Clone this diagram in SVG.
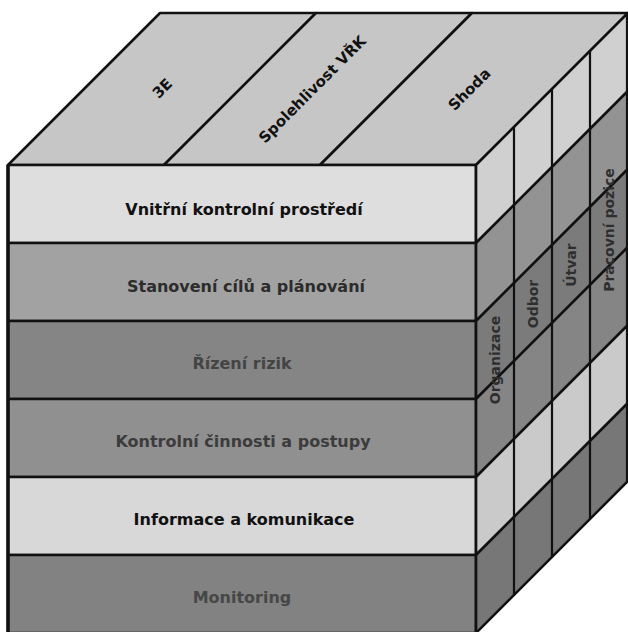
<svg xmlns="http://www.w3.org/2000/svg" width="628" height="632" viewBox="0 0 628 632">
<style>
.e{stroke:#111;stroke-width:2.5;stroke-linejoin:round}
.ln{stroke:#111;stroke-width:2.2;fill:none}
.lb{font-family:"DejaVu Sans","Liberation Sans",sans-serif;font-weight:bold;font-size:16px;text-anchor:middle}
.tp{font-family:"DejaVu Sans","Liberation Sans",sans-serif;font-weight:bold;font-size:15px;text-anchor:middle;fill:#111}
.sd{font-family:"DejaVu Sans","Liberation Sans",sans-serif;font-weight:bold;font-size:14px;text-anchor:middle;fill:#2e2e2e}
</style>
<rect width="628" height="632" fill="#fff"/>
<g id="top-3E">
<polygon class="e" points="8,165 164,165 316,13 160,13" fill="#c6c6c6"/>
<text class="tp" transform="translate(166,92) rotate(-45)">3E</text>
</g>
<g id="top-spolehlivost">
<polygon class="e" points="164,165 320,165 472,13 316,13" fill="#c6c6c6"/>
<text class="tp" transform="translate(316,93) rotate(-45)">Spolehlivost VŘK</text>
</g>
<g id="top-shoda">
<polygon class="e" points="320,165 476,165 628,13 472,13" fill="#c6c6c6"/>
<text class="tp" transform="translate(473,93) rotate(-45)">Shoda</text>
</g>
<g id="row-vnitrni">
<rect class="e" x="8" y="165" width="468" height="78" fill="#dedede"/>
<polygon class="e" points="476,165 628,13 628,91 476,243" fill="#d0d0d0"/>
<text class="lb" x="244" y="215" fill="#111">Vnitřní kontrolní prostředí</text>
</g>
<g id="row-stanoveni">
<rect class="e" x="8" y="243" width="468" height="78" fill="#a2a2a2"/>
<polygon class="e" points="476,243 628,91 628,169 476,321" fill="#939393"/>
<text class="lb" x="246" y="292" fill="#2c2c2c">Stanovení cílů a plánování</text>
</g>
<g id="row-rizeni">
<rect class="e" x="8" y="321" width="468" height="78" fill="#858585"/>
<polygon class="e" points="476,321 628,169 628,247 476,399" fill="#7b7b7b"/>
<text class="lb" x="242" y="369" fill="#444">Řízení rizik</text>
</g>
<g id="row-kontrolni">
<rect class="e" x="8" y="399" width="468" height="78" fill="#909090"/>
<polygon class="e" points="476,399 628,247 628,325 476,477" fill="#858585"/>
<text class="lb" x="243" y="447" fill="#3c3c3c">Kontrolní činnosti a postupy</text>
</g>
<g id="row-informace">
<rect class="e" x="8" y="477" width="468" height="78" fill="#d8d8d8"/>
<polygon class="e" points="476,477 628,325 628,403 476,555" fill="#cacaca"/>
<text class="lb" x="244" y="525" fill="#111">Informace a komunikace</text>
</g>
<g id="row-monitoring">
<rect class="e" x="8" y="555" width="468" height="78" fill="#828282"/>
<polygon class="e" points="476,555 628,403 628,481 476,633" fill="#777"/>
<text class="lb" x="242" y="603" fill="#474747">Monitoring</text>
</g>
<g id="side-organizace">
<line class="ln" x1="476" y1="165" x2="476" y2="633"/>
<text class="sd" transform="translate(500,360) rotate(-90)">Organizace</text>
</g>
<g id="side-odbor">
<line class="ln" x1="514" y1="127" x2="514" y2="595"/>
<text class="sd" transform="translate(538,304) rotate(-90)">Odbor</text>
</g>
<g id="side-utvar">
<line class="ln" x1="552" y1="89" x2="552" y2="557"/>
<text class="sd" transform="translate(576,265) rotate(-90)">Útvar</text>
</g>
<g id="side-pozice">
<line class="ln" x1="590" y1="51" x2="590" y2="519"/>
<line class="ln" x1="627" y1="13" x2="627" y2="481"/>
<text class="sd" transform="translate(614,230) rotate(-90)">Pracovní pozice</text>
</g>
<g id="connectors">
<line x1="8" y1="165" x2="8" y2="632" stroke="#111" stroke-width="3.5"/>
</g>
</svg>
